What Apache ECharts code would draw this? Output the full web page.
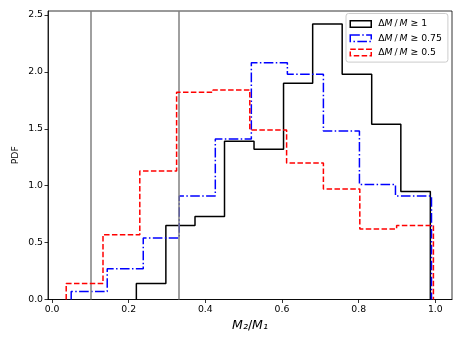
<!DOCTYPE html>
<html>
<head>
<meta charset="utf-8">
<script src="https://cdn.jsdelivr.net/npm/echarts@6/dist/echarts.min.js"></script>
<style>
  html, body { margin: 0; padding: 0; background: #fff; }
  #chart { width: 463px; height: 347px; }
</style>
</head>
<body>
<div id="chart"></div>
<script>
// ---- data ----
const seriesNames = ['\u0394M\u2009/\u2009M \u2265 1', '\u0394M\u2009/\u2009M \u2265 0.75', '\u0394M\u2009/\u2009M \u2265 0.5'];

const edgesDm1 = [0.220, 0.297, 0.373, 0.450, 0.527, 0.604, 0.680, 0.757, 0.834, 0.910, 0.987];
const pdfDm1   = [0.14, 0.65, 0.73, 1.39, 1.32, 1.90, 2.42, 1.98, 1.54, 0.95];

const edgesDm075 = [0.050, 0.144, 0.238, 0.332, 0.426, 0.520, 0.614, 0.708, 0.802, 0.896, 0.990];
const pdfDm075   = [0.07, 0.27, 0.54, 0.91, 1.41, 2.08, 1.98, 1.48, 1.01, 0.91];

const edgesDm05 = [0.037, 0.133, 0.229, 0.325, 0.420, 0.516, 0.612, 0.708, 0.803, 0.899, 0.995];
const pdfDm05   = [0.14, 0.57, 1.13, 1.82, 1.84, 1.49, 1.20, 0.97, 0.62, 0.65];

const refLines = [0.1, 1 / 3];

const xTicks = [0.0, 0.2, 0.4, 0.6, 0.8, 1.0];
const yTicks = [0.0, 0.5, 1.0, 1.5, 2.0, 2.5];

// ---- helpers ----
function stepOutline(edges, heights) {
  const pts = [[edges[0], 0]];
  for (let i = 0; i < heights.length; i++) {
    pts.push([edges[i], heights[i]]);
    pts.push([edges[i + 1], heights[i]]);
  }
  pts.push([edges[edges.length - 1], 0]);
  return pts;
}
const fmt1 = v => Number(v).toFixed(1);

const FONT = 'DejaVu Sans';
const dashed = [5.5, 2.4];
const dashdot = [9.6, 2.4, 1.5, 2.4];

const colors = ['#000000', '#0000ff', '#ff0000'];
const dashes = ['solid', dashdot, dashed];
const allEdges = [edgesDm1, edgesDm075, edgesDm05];
const allPdf = [pdfDm1, pdfDm075, pdfDm05];

const series = seriesNames.map((name, k) => ({
  name: name,
  type: 'line',
  data: stepOutline(allEdges[k], allPdf[k]),
  showSymbol: false,
  symbol: 'none',
  animation: false,
  z: 3 + k,
  itemStyle: { color: colors[k] },
  lineStyle: { color: colors[k], width: 1.5, type: dashes[k] }
}));

series.push({
  name: 'ref',
  type: 'line',
  data: [],
  animation: false,
  z: 2,
  markLine: {
    silent: true,
    symbol: 'none',
    animation: false,
    label: { show: false },
    lineStyle: { color: '#808080', width: 1.5, type: 'solid' },
    emphasis: { disabled: true },
    data: refLines.map(v => ({ xAxis: v }))
  }
});

const chart = echarts.init(document.getElementById('chart'), null, { renderer: 'canvas' });
chart.setOption({
  animation: false,
  backgroundColor: '#ffffff',
  textStyle: { fontFamily: FONT },
  grid: {
    left: 48, right: 11, top: 11, bottom: 47.5,
    show: true, borderColor: '#000', borderWidth: 0.8, backgroundColor: 'transparent'
  },
  xAxis: {
    type: 'value',
    min: -0.0105,
    max: 1.0435,
    name: '{i|M\u2082}{n|/}{i|M\u2081}',
    nameLocation: 'middle',
    nameGap: 20,
    nameMoveOverlap: false,
    nameTextStyle: {
      rich: {
        i: { fontFamily: FONT, fontStyle: 'italic', fontSize: 12.5, color: '#000' },
        n: { fontFamily: FONT, fontSize: 12.5, color: '#000' }
      }
    },
    splitLine: { show: false },
    axisLine: { show: true, onZero: false, lineStyle: { color: '#000', width: 0.8 } },
    axisTick: { show: true, length: 3.5, inside: false, lineStyle: { color: '#000', width: 0.8 }, customValues: xTicks },
    axisLabel: {
      customValues: xTicks,
      formatter: fmt1,
      margin: 6,
      fontFamily: FONT, fontSize: 9.3, color: '#000'
    }
  },
  yAxis: {
    type: 'value',
    min: 0,
    max: 2.535,
    name: 'PDF',
    nameLocation: 'middle',
    nameGap: 28,
    nameMoveOverlap: false,
    nameRotate: 90,
    nameTextStyle: { fontFamily: FONT, fontSize: 9.3, color: '#000' },
    splitLine: { show: false },
    axisLine: { show: true, onZero: false, lineStyle: { color: '#000', width: 0.8 } },
    axisTick: { show: true, length: 3.5, inside: false, lineStyle: { color: '#000', width: 0.8 }, customValues: yTicks },
    axisLabel: {
      customValues: yTicks,
      formatter: fmt1,
      margin: 5,
      fontFamily: FONT, fontSize: 9.3, color: '#000'
    }
  },
  legend: {
    orient: 'vertical',
    left: 346,
    top: 13.5,
    padding: [5, 6, 4, 3.5],
    itemWidth: 21,
    itemHeight: 6.5,
    itemGap: 3.3,
    icon: 'rect',
    backgroundColor: 'rgba(255,255,255,0.8)',
    borderColor: '#cccccc',
    borderWidth: 1,
    borderRadius: 2.5,
    selectedMode: false,
    data: seriesNames.map((n, k) => ({
      name: n,
      icon: 'rect',
      itemStyle: { color: 'rgba(255,255,255,0)', borderColor: colors[k], borderWidth: 1.5, borderType: dashes[k] }
    })),
    formatter: name => name.split('M').map(p => p ? '{n|' + p + '}' : '').join('{i|M}'),
    textStyle: {
      fontFamily: FONT,
      fontSize: 9.3,
      lineHeight: 11,
      padding: [0, 0, 0, 2],
      color: '#000',
      rich: {
        i: { fontFamily: FONT, fontStyle: 'italic', fontSize: 9.3, color: '#000' },
        n: { fontFamily: FONT, fontSize: 9.3, color: '#000' }
      }
    }
  },
  series: series
});
</script>
</body>
</html>
